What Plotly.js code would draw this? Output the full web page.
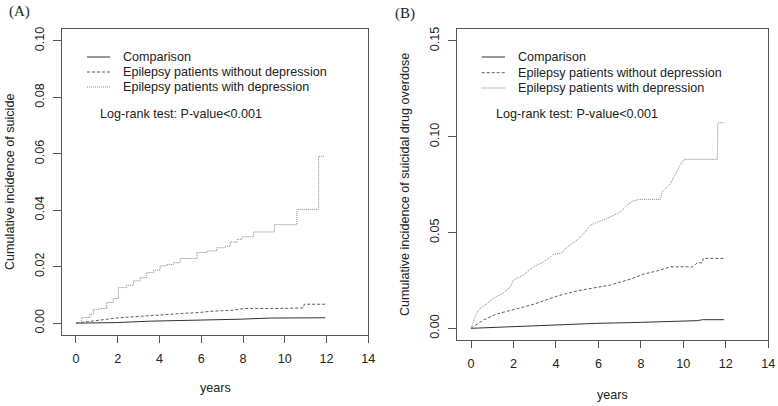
<!DOCTYPE html>
<html>
<head>
<meta charset="utf-8">
<script src="https://cdn.plot.ly/plotly-3.0.1.min.js"></script>
<style>html,body{margin:0;padding:0;background:#fff;}#chart{width:778px;height:406px;}</style>
</head>
<body>
<div id="chart"></div>
<script>
// ---- data ----
const seriesNames = ["Comparison", "Epilepsy patients without depression", "Epilepsy patients with depression"];
const xTickVals = [0, 2, 4, 6, 8, 10, 12, 14];
const yTickValsA = [0, 0.02, 0.04, 0.06, 0.08, 0.10];
const yTickValsB = [0, 0.05, 0.10, 0.15];

// Panel A: suicide
const A_cmp_x = [0, 1.95, 3.55, 5.15, 6.27, 7.87, 9.3, 11.94];
const A_cmp_y = [0, 0.0002, 0.0007, 0.0009, 0.0013, 0.0014, 0.0018, 0.0019];
const A_nodep_x = [0, 0.5, 1.15, 2.03, 3.07, 3.87, 4.99, 5.95, 6.43, 7.55, 8.03, 9.8, 10.9, 10.93, 11.94];
const A_nodep_y = [0, 0.0005, 0.0012, 0.0019, 0.0024, 0.0029, 0.0034, 0.0038, 0.0042, 0.0046, 0.0052, 0.0052, 0.0054, 0.0067, 0.0067];
const A_dep_x = [0, 0.27, 0.67, 0.83, 1.15, 1.47, 1.79, 2.03, 2.43, 2.75, 3.07, 3.39, 3.71, 4.03, 4.35, 4.67, 4.99, 5.79, 6.27, 6.75, 7.15, 7.39, 7.71, 7.95, 8.51, 9.5, 10.58, 11.62, 11.94];
const A_dep_y = [0, 0.002, 0.0032, 0.0049, 0.0052, 0.0073, 0.0087, 0.0126, 0.0134, 0.015, 0.0161, 0.0179, 0.0188, 0.0203, 0.0208, 0.0214, 0.0229, 0.025, 0.0256, 0.0267, 0.0273, 0.0287, 0.0297, 0.0306, 0.0323, 0.0349, 0.0403, 0.0591, 0.0591];

// Panel B: suicidal drug overdose
const B_cmp_x = [0, 2, 4.05, 5.94, 7.98, 10.66, 10.9, 11.92];
const B_cmp_y = [0, 0.0009, 0.0017, 0.0026, 0.0031, 0.004, 0.0045, 0.0045];
const B_nodep_x = [0, 0.58, 1.21, 2.0, 2.94, 4.05, 5.0, 5.94, 6.57, 7.51, 8.14, 8.77, 9.4, 10.43, 10.66, 10.9, 10.93, 11.92];
const B_nodep_y = [0, 0.0043, 0.0075, 0.0099, 0.0125, 0.0168, 0.0196, 0.0214, 0.0226, 0.0257, 0.0283, 0.030, 0.0321, 0.0321, 0.0342, 0.0342, 0.0365, 0.0365];
const B_dep_x = [0, 0.19, 0.35, 0.74, 1.06, 1.53, 1.84, 2.0, 2.47, 2.94, 3.42, 3.89, 4.28, 4.52, 5.0, 5.31, 5.62, 6.09, 6.57, 7.04, 7.43, 7.6, 7.9, 8.92, 9.0, 9.4, 9.64, 9.84, 10.03, 11.6, 11.62, 11.92];
const B_dep_y = [0, 0.0061, 0.0095, 0.013, 0.0156, 0.0186, 0.0214, 0.0252, 0.0278, 0.0321, 0.0347, 0.0385, 0.0394, 0.0425, 0.046, 0.0495, 0.0538, 0.0561, 0.0582, 0.0608, 0.0651, 0.0663, 0.0673, 0.0673, 0.0713, 0.0757, 0.0809, 0.0852, 0.0882, 0.0882, 0.1073, 0.1073];

// ---- styling ----
const W = 778, H = 406;
const px = x => x / W;
const py = y => 1 - y / H;
const FONT = "Liberation Sans, Arial, sans-serif";
const FS = 12.6;
const styles = [
  {color: "#333333", width: 1, dash: "solid"},
  {color: "#5e5e5e", width: 1, dash: "3px,2px"},
  {color: "#858585", width: 1, dash: "1px,1px"}
];

function tr(x, y, i, xa, ya, shape) {
  return {x: x, y: y, type: "scatter", mode: "lines", line: Object.assign({shape: shape}, styles[i]),
          name: seriesNames[i], xaxis: xa, yaxis: ya, showlegend: false, hoverinfo: "skip"};
}

const data = [
  tr(A_cmp_x, A_cmp_y, 0, "x", "y", "linear"),
  tr(A_nodep_x, A_nodep_y, 1, "x", "y", "linear"),
  tr(A_dep_x, A_dep_y, 2, "x", "y", "hv"),
  tr(B_cmp_x, B_cmp_y, 0, "x2", "y2", "linear"),
  tr(B_nodep_x, B_nodep_y, 1, "x2", "y2", "linear"),
  tr(B_dep_x, B_dep_y, 2, "x2", "y2", "linear")
];

const axisCommon = {
  showgrid: false, zeroline: false, showline: true, mirror: true,
  linecolor: "#555555", linewidth: 1, ticks: "outside", tickcolor: "#555555",
  tickfont: {family: FONT, size: FS, color: "#222222"}, fixedrange: true
};

const layout = {
  width: W, height: H,
  margin: {l: 0, r: 0, t: 0, b: 0},
  paper_bgcolor: "#ffffff", plot_bgcolor: "#ffffff",
  showlegend: false,
  xaxis: Object.assign({}, axisCommon, {domain: [px(62), px(368.3)], range: [-0.67, 14], tickvals: xTickVals, ticklen: 7, ticklabelstandoff: 5, anchor: "y"}),
  yaxis: Object.assign({}, axisCommon, {domain: [py(335), py(29)], range: [-0.0042, 0.1042], tickvals: yTickValsA, tickformat: ".2f", tickangle: -90, ticklen: 8, ticklabelstandoff: 4, anchor: "x"}),
  xaxis2: Object.assign({}, axisCommon, {domain: [px(456.7), px(768.3)], range: [-0.675, 14], tickvals: xTickVals, ticklen: 7, ticklabelstandoff: 5, anchor: "y2"}),
  yaxis2: Object.assign({}, axisCommon, {domain: [py(340), py(29.3)], range: [-0.0061, 0.1561], tickvals: yTickValsB, tickformat: ".2f", tickangle: -90, ticklen: 8, ticklabelstandoff: 4, anchor: "x2"}),
  shapes: [],
  annotations: []
};

function addText(text, x, y, opts) {
  layout.annotations.push(Object.assign({
    text: text, xref: "paper", yref: "paper", x: px(x), y: py(y),
    xanchor: "left", yanchor: "middle", showarrow: false,
    font: {family: FONT, size: FS, color: "#222222"}
  }, opts || {}));
}

function addLegend(lineX0, lineX1, textX, rows, logX, logY) {
  for (let i = 0; i < 3; i++) {
    layout.shapes.push({type: "line", xref: "paper", yref: "paper",
      x0: px(lineX0), x1: px(lineX1), y0: py(rows[i]), y1: py(rows[i]),
      line: {color: styles[i].color, width: 1, dash: styles[i].dash}});
    addText(seriesNames[i], textX, rows[i]);
  }
  addText("Log-rank test: P-value<0.001", logX, logY);
}

addLegend(87, 110, 120.7, [57, 72, 87], 98, 114);
addLegend(481.7, 505, 516, [57, 72.7, 88], 494, 114);

// axis titles
addText("years", 215, 388, {xanchor: "center"});
addText("years", 612.5, 395, {xanchor: "center"});
addText("Cumulative incidence of suicide", 10, 182, {xanchor: "center", textangle: -90});
addText("Cumulative incidence of suicidal drug overdose", 405, 185, {xanchor: "center", textangle: -90});

// panel labels
addText("(A)", 7, 12, {font: {family: "Liberation Serif, Times New Roman, serif", size: 15, color: "#222222"}});
addText("(B)", 393, 13, {font: {family: "Liberation Serif, Times New Roman, serif", size: 15, color: "#222222"}});

Plotly.newPlot("chart", data, layout, {staticPlot: true, displayModeBar: false});
</script>
</body>
</html>
